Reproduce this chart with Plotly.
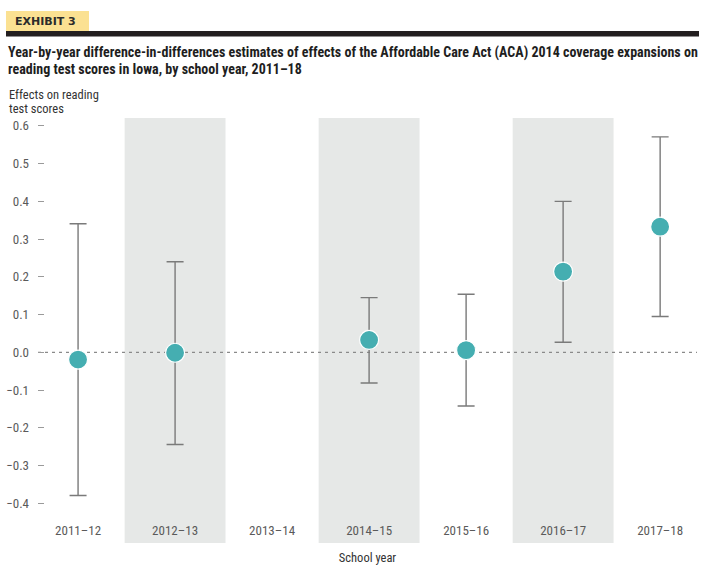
import plotly.graph_objects as go

years = ['2011–12', '2012–13', '2013–14', '2014–15', '2015–16', '2016–17', '2017–18']
estimate = [-0.019, -0.001, None, 0.033, 0.006, 0.214, 0.333]
ci_upper = [0.341, 0.240, None, 0.145, 0.154, 0.400, 0.571]
ci_lower = [-0.379, -0.244, None, -0.081, -0.142, 0.027, 0.095]
shaded_years = ['2012–13', '2014–15', '2016–17']
y_ticks = [-0.4, -0.3, -0.2, -0.1, 0.0, 0.1, 0.2, 0.3, 0.4, 0.5, 0.6]

title_lines = ['Year-by-year difference-in-differences estimates of effects of the Affordable Care Act (ACA) 2014 coverage expansions on',
               'reading test scores in Iowa, by school year, 2011–18']
ytitle_lines = ['Effects on reading', 'test scores']

W, H = 719, 575
L, R, T, B = 38, 22, 118, 32
NARROW = 'Liberation Sans Narrow, Roboto Condensed, Arial Narrow, sans-serif'


def px(x):
    return (x - L) / (W - L - R)


def py(y):
    return (H - B - y) / (H - T - B)


err_plus = [None if e is None else u - e for e, u in zip(estimate, ci_upper)]
err_minus = [None if e is None else e - l for e, l in zip(estimate, ci_lower)]

fig = go.Figure()
fig.add_trace(go.Scatter(
    x=years, y=estimate, mode='markers',
    marker=dict(size=19, color='#45AEB1', line=dict(color='white', width=1.2)),
    error_y=dict(type='data', symmetric=False, array=err_plus, arrayminus=err_minus,
                 color='#7a7a7a', thickness=1.4, width=8.5),
    showlegend=False, hoverinfo='skip'))

shapes = []
for yr in shaded_years:
    i = years.index(yr)
    shapes.append(dict(type='rect', xref='x', yref='paper', x0=i - 0.52, x1=i + 0.52,
                       y0=0, y1=1, fillcolor='#E6E8E7', line_width=0, layer='below'))
# zero reference line
shapes.append(dict(type='line', xref='paper', yref='y', x0=0, x1=1, y0=0, y1=0,
                   line=dict(color='#8a8a8a', width=1.2, dash='3px,4px'), layer='below'))
# header: yellow tag and black rule
shapes.append(dict(type='rect', xref='paper', yref='paper', x0=px(6), x1=px(89),
                   y0=py(32), y1=py(11), fillcolor='#FBE192', line_width=0))
shapes.append(dict(type='rect', xref='paper', yref='paper', x0=px(6), x1=px(699),
                   y0=py(36.5), y1=py(31), fillcolor='#231F20', line_width=0))

annotations = [
    dict(text='<b>EXHIBIT 3</b>', x=px(13), y=py(21.5), xref='paper', yref='paper',
         xanchor='left', yanchor='middle', showarrow=False,
         font=dict(family='DejaVu Sans', size=11, color='#2b2b2b')),
]
for k, line in enumerate(title_lines):
    annotations.append(dict(text='<b>' + line + '</b>', x=px(6), y=py(52 + 16.5 * k),
                            xref='paper', yref='paper', xanchor='left', yanchor='middle',
                            showarrow=False, font=dict(family=NARROW, size=14, color='#1e1e1e')))
for k, line in enumerate(ytitle_lines):
    annotations.append(dict(text=line, x=px(7), y=py(95 + 13 * k),
                            xref='paper', yref='paper', xanchor='left', yanchor='middle',
                            showarrow=False, font=dict(family=NARROW, size=12.5, color='#333333')))

fig.update_layout(
    width=W, height=H, margin=dict(l=L, r=R, t=T, b=B),
    plot_bgcolor='white', paper_bgcolor='white',
    shapes=shapes, annotations=annotations,
    font=dict(family=NARROW, size=13, color='#5a5a5a'),
    xaxis=dict(type='category', categoryorder='array', categoryarray=years,
               range=[-0.413, 6.38], showgrid=False, zeroline=False, showline=False,
               automargin=False, ticks='', ticklabelposition='inside', ticklabelstandoff=2,
               tickfont=dict(size=13, color='#5a5a5a'),
               title=dict(text='School year', standoff=15, font=dict(size=12.5, color='#333333'))),
    yaxis=dict(range=[-0.505, 0.621], tickvals=y_ticks, tickformat='.1f',
               showgrid=False, zeroline=False, showline=False, automargin=False,
               ticks='inside', ticklen=6, tickwidth=1, tickcolor='#9a9a9a',
               ticklabelstandoff=8, tickfont=dict(size=13, color='#5a5a5a')),
)

fig.write_html('out.html', config={'displayModeBar': False},
               post_script="document.body.style.margin='0px';")
